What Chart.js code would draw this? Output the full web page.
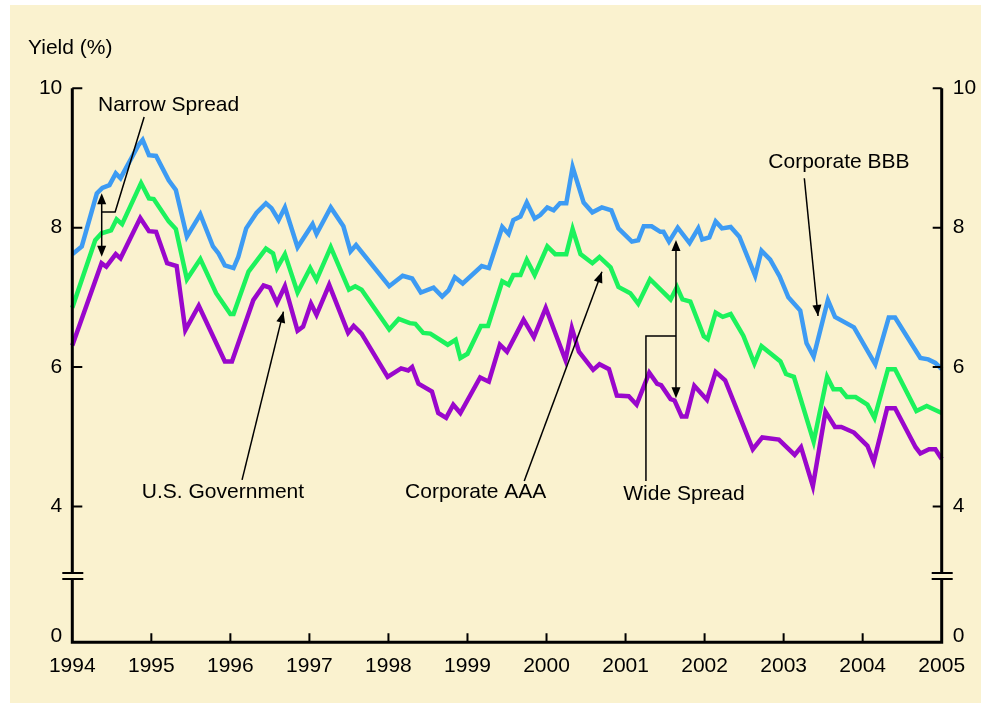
<!DOCTYPE html>
<html>
<head>
<meta charset="utf-8">
<script src="https://cdn.jsdelivr.net/npm/chart.js@4.4.1/dist/chart.umd.min.js"></script>
<style>
  html, body { margin: 0; padding: 0; background: #fff; }
  #chart { display: block; }
</style>
</head>
<body>
<canvas id="chart" width="981" height="703"></canvas>
<script>
// yields, [year, yield %] at each corner of the line
const bbbSeries = [
  [1994.00, 7.62], [1994.12, 7.73], [1994.31, 8.49], [1994.38, 8.57], [1994.47, 8.61], [1994.55, 8.78],
  [1994.61, 8.71], [1994.84, 9.19], [1994.89, 9.26], [1994.97, 9.04], [1995.06, 9.03], [1995.22, 8.68],
  [1995.31, 8.54], [1995.45, 7.87], [1995.62, 8.19], [1995.78, 7.73], [1995.85, 7.63], [1995.93, 7.46],
  [1996.04, 7.42], [1996.10, 7.58], [1996.20, 7.99], [1996.33, 8.21], [1996.45, 8.35], [1996.52, 8.28],
  [1996.61, 8.11], [1996.69, 8.29], [1996.85, 7.72], [1997.04, 8.05], [1997.09, 7.91], [1997.27, 8.29],
  [1997.43, 8.02], [1997.52, 7.66], [1997.59, 7.75], [1998.01, 7.16], [1998.18, 7.31], [1998.30, 7.27],
  [1998.41, 7.07], [1998.57, 7.14], [1998.68, 7.01], [1998.76, 7.10], [1998.84, 7.29], [1998.94, 7.20],
  [1999.18, 7.45], [1999.27, 7.42], [1999.44, 8.01], [1999.52, 7.91], [1999.58, 8.11], [1999.67, 8.16],
  [1999.75, 8.36], [1999.85, 8.13], [1999.92, 8.18], [2000.01, 8.29], [2000.09, 8.25], [2000.17, 8.35],
  [2000.25, 8.35], [2000.33, 8.87], [2000.47, 8.36], [2000.58, 8.22], [2000.70, 8.29], [2000.82, 8.25],
  [2000.91, 7.99], [2001.08, 7.80], [2001.16, 7.82], [2001.23, 8.02], [2001.33, 8.02], [2001.44, 7.94],
  [2001.48, 7.94], [2001.55, 7.80], [2001.66, 8.00], [2001.81, 7.78], [2001.92, 7.99], [2001.97, 7.83],
  [2002.06, 7.86], [2002.14, 8.09], [2002.22, 7.99], [2002.33, 8.01], [2002.44, 7.87], [2002.64, 7.31],
  [2002.72, 7.67], [2002.83, 7.54], [2002.95, 7.30], [2003.06, 7.00], [2003.21, 6.81], [2003.29, 6.34],
  [2003.38, 6.15], [2003.56, 6.96], [2003.65, 6.72], [2003.89, 6.57], [2004.16, 6.04], [2004.33, 6.71],
  [2004.41, 6.71], [2004.73, 6.13], [2004.83, 6.11], [2004.92, 6.06], [2005.00, 5.97]
];

const aaaSeries = [
  [1994.00, 6.85], [1994.29, 7.82], [1994.37, 7.92], [1994.49, 7.96], [1994.56, 8.12], [1994.63, 8.05],
  [1994.87, 8.64], [1994.97, 8.42], [1995.03, 8.41], [1995.22, 8.09], [1995.31, 7.98], [1995.45, 7.26],
  [1995.62, 7.55], [1995.82, 7.06], [1996.00, 6.76], [1996.04, 6.76], [1996.23, 7.37], [1996.45, 7.70],
  [1996.54, 7.63], [1996.59, 7.42], [1996.69, 7.62], [1996.85, 7.07], [1997.01, 7.42], [1997.09, 7.25],
  [1997.27, 7.72], [1997.50, 7.11], [1997.58, 7.16], [1997.66, 7.11], [1998.01, 6.54], [1998.13, 6.69],
  [1998.27, 6.63], [1998.34, 6.62], [1998.44, 6.49], [1998.53, 6.48], [1998.75, 6.32], [1998.85, 6.39],
  [1998.91, 6.13], [1999.00, 6.19], [1999.17, 6.59], [1999.26, 6.59], [1999.44, 7.23], [1999.52, 7.18],
  [1999.58, 7.32], [1999.67, 7.32], [1999.75, 7.54], [1999.85, 7.32], [2000.01, 7.73], [2000.11, 7.62],
  [2000.25, 7.62], [2000.33, 7.98], [2000.43, 7.62], [2000.58, 7.49], [2000.67, 7.58], [2000.81, 7.43],
  [2000.91, 7.15], [2001.06, 7.06], [2001.16, 6.91], [2001.31, 7.26], [2001.57, 6.97], [2001.65, 7.15],
  [2001.72, 6.97], [2001.82, 6.94], [2001.99, 6.44], [2002.04, 6.40], [2002.14, 6.78], [2002.23, 6.72],
  [2002.33, 6.76], [2002.49, 6.45], [2002.63, 6.05], [2002.72, 6.30], [2002.96, 6.08], [2003.03, 5.90],
  [2003.13, 5.86], [2003.38, 4.93], [2003.55, 5.86], [2003.63, 5.68], [2003.72, 5.68], [2003.80, 5.57],
  [2003.91, 5.57], [2004.06, 5.46], [2004.15, 5.27], [2004.32, 5.97], [2004.41, 5.97], [2004.68, 5.37],
  [2004.81, 5.44], [2005.00, 5.34]
];

const govSeries = [
  [1994.00, 6.31], [1994.37, 7.49], [1994.43, 7.44], [1994.55, 7.62], [1994.61, 7.56], [1994.86, 8.14],
  [1994.97, 7.95], [1995.06, 7.94], [1995.20, 7.49], [1995.32, 7.45], [1995.43, 6.53], [1995.60, 6.88],
  [1995.93, 6.08], [1996.02, 6.08], [1996.29, 6.96], [1996.42, 7.17], [1996.50, 7.14], [1996.59, 6.92],
  [1996.69, 7.16], [1996.85, 6.52], [1996.92, 6.58], [1997.02, 6.91], [1997.09, 6.75], [1997.25, 7.18],
  [1997.49, 6.49], [1997.56, 6.59], [1997.66, 6.48], [1997.99, 5.86], [1998.16, 5.98], [1998.25, 5.95],
  [1998.30, 6.00], [1998.38, 5.76], [1998.55, 5.65], [1998.63, 5.34], [1998.73, 5.27], [1998.82, 5.46],
  [1998.91, 5.34], [1999.16, 5.85], [1999.27, 5.79], [1999.41, 6.32], [1999.50, 6.22], [1999.62, 6.48],
  [1999.71, 6.68], [1999.84, 6.43], [1999.99, 6.85], [2000.24, 6.10], [2000.32, 6.56], [2000.41, 6.22],
  [2000.59, 5.96], [2000.67, 6.04], [2000.79, 5.97], [2000.89, 5.59], [2001.04, 5.58], [2001.14, 5.46],
  [2001.30, 5.92], [2001.40, 5.76], [2001.45, 5.74], [2001.57, 5.54], [2001.62, 5.52], [2001.71, 5.29],
  [2001.77, 5.29], [2001.87, 5.73], [2002.03, 5.53], [2002.14, 5.93], [2002.26, 5.81], [2002.61, 4.82],
  [2002.73, 4.99], [2002.94, 4.96], [2003.14, 4.74], [2003.22, 4.85], [2003.37, 4.29], [2003.53, 5.36],
  [2003.65, 5.14], [2003.73, 5.14], [2003.89, 5.06], [2004.06, 4.87], [2004.14, 4.64], [2004.31, 5.41],
  [2004.41, 5.41], [2004.67, 4.85], [2004.73, 4.76], [2004.84, 4.82], [2004.92, 4.82], [2005.00, 4.68]
];

const yearTicks = [1994, 1995, 1996, 1997, 1998, 1999, 2000, 2001, 2002, 2003, 2004, 2005];
const yieldTicks = [4, 6, 8, 10];
const zeroTick = 2.14;   // where the "0" label sits below the axis break
const axisBreak = 3;

// callouts in [year, yield] space
const callouts = [
  { text: 'Narrow Spread', at: [1994.325, 9.674], line: [[1994.909, 9.588], [1994.542, 8.225], [1994.376, 8.225]] },
  { text: 'U.S. Government', at: [1994.88, 4.122], arrow: [[1996.148, 4.380], [1996.671, 6.795]] },
  { text: 'Corporate AAA', at: [1998.211, 4.122], arrow: [[1999.718, 4.366], [2000.701, 7.369]] },
  { text: 'Wide Spread', at: [2000.971, 4.092], line: [[2001.258, 4.366], [2001.258, 6.446], [2001.638, 6.446]] },
  { text: 'Corporate BBB', at: [2002.806, 8.857], arrow: [[2003.262, 8.709], [2003.435, 6.733]] }
];
const spreadArrows = [
  { year: 1994.372, top: 8.493, bottom: 7.584 },
  { year: 2001.638, top: 7.824, bottom: 5.552 }
];

const FONT = '21px "Liberation Sans", Arial, Helvetica, sans-serif';
const toPoints = s => s.map(([x, y]) => ({ x, y }));

function arrowHead(ctx, x1, y1, x2, y2) {
  const a = Math.atan2(y2 - y1, x2 - x1);
  const len = 11, half = 4.5;
  ctx.beginPath();
  ctx.moveTo(x2, y2);
  ctx.lineTo(x2 - len * Math.cos(a) + half * Math.sin(a), y2 - len * Math.sin(a) - half * Math.cos(a));
  ctx.lineTo(x2 - len * Math.cos(a) - half * Math.sin(a), y2 - len * Math.sin(a) + half * Math.cos(a));
  ctx.closePath();
  ctx.fill();
}

const framePlugin = {
  id: 'frame',
  beforeDraw(chart) {
    const ctx = chart.ctx;
    ctx.save();
    ctx.fillStyle = '#FAF2CF';
    ctx.fillRect(10, 5, chart.width - 10, chart.height - 5);
    ctx.restore();
  },
  afterDatasetsDraw(chart) {
    const { ctx, chartArea: a, scales } = chart;
    const px = v => scales.x.getPixelForValue(v);
    const py = v => scales.y.getPixelForValue(v);
    const brk = py(axisBreak);
    ctx.save();
    ctx.strokeStyle = '#000';
    ctx.fillStyle = '#000';

    // axes, open at the top, with a gap at the break
    ctx.lineWidth = 3;
    ctx.lineJoin = 'miter';
    ctx.beginPath();
    ctx.moveTo(a.left, brk + 3);
    ctx.lineTo(a.left, a.bottom);
    ctx.lineTo(a.right, a.bottom);
    ctx.lineTo(a.right, brk + 3);
    ctx.moveTo(a.left, a.top);
    ctx.lineTo(a.left, brk - 3);
    ctx.moveTo(a.right, a.top);
    ctx.lineTo(a.right, brk - 3);
    ctx.stroke();

    // break marks and inward ticks
    ctx.lineWidth = 2;
    ctx.beginPath();
    [a.left, a.right].forEach(x => {
      ctx.moveTo(x - 10, brk - 3); ctx.lineTo(x + 11, brk - 3);
      ctx.moveTo(x - 10, brk + 3); ctx.lineTo(x + 11, brk + 3);
    });
    yieldTicks.forEach(v => {
      ctx.moveTo(a.left, py(v)); ctx.lineTo(a.left + 10, py(v));
      ctx.moveTo(a.right - 9, py(v)); ctx.lineTo(a.right, py(v));
    });
    yearTicks.slice(1, -1).forEach(t => {
      ctx.moveTo(px(t), a.bottom); ctx.lineTo(px(t), a.bottom - 9);
    });
    ctx.stroke();

    // callouts
    ctx.font = FONT;
    ctx.textBaseline = 'alphabetic';
    ctx.textAlign = 'left';
    ctx.fillText('Yield (%)', 28, 54);
    ctx.lineWidth = 1.5;
    callouts.forEach(c => {
      ctx.fillText(c.text, px(c.at[0]), py(c.at[1]));
      const pts = (c.line || c.arrow).map(([t, v]) => [px(t), py(v)]);
      ctx.beginPath();
      pts.forEach(([x, y], i) => i ? ctx.lineTo(x, y) : ctx.moveTo(x, y));
      ctx.stroke();
      if (c.arrow) arrowHead(ctx, pts[0][0], pts[0][1], pts[1][0], pts[1][1]);
    });
    spreadArrows.forEach(s => {
      const x = px(s.year), y1 = py(s.top), y2 = py(s.bottom);
      ctx.beginPath();
      ctx.moveTo(x, y1 + 6); ctx.lineTo(x, y2 - 6);
      ctx.stroke();
      arrowHead(ctx, x, y2, x, y1);
      arrowHead(ctx, x, y1, x, y2);
    });
    ctx.restore();
  }
};

const tickFont = { family: '"Liberation Sans", Arial, Helvetica, sans-serif', size: 21 };
const yTicks = () => [zeroTick, ...yieldTicks].map(value => ({ value }));
const yLabel = v => (v < axisBreak ? '0' : String(v));

new Chart(document.getElementById('chart'), {
  type: 'line',
  data: {
    datasets: [
      { label: 'Corporate BBB', data: toPoints(bbbSeries), borderColor: '#3D9BF3' },
      { label: 'Corporate AAA', data: toPoints(aaaSeries), borderColor: '#1CF25C' },
      { label: 'U.S. Government', data: toPoints(govSeries), borderColor: '#9A07CC' }
    ]
  },
  options: {
    responsive: false,
    animation: false,
    layout: { padding: { left: 10, top: 88.3, right: 0, bottom: 20.7 } },
    plugins: { legend: { display: false }, tooltip: { enabled: false } },
    elements: {
      point: { radius: 0 },
      line: { tension: 0, borderWidth: 4.5, borderJoinStyle: 'miter', borderCapStyle: 'butt', fill: false }
    },
    datasets: { line: { clip: 6 } },
    scales: {
      x: {
        type: 'linear', min: 1994, max: 2005,
        grid: { display: false, drawTicks: false }, border: { display: false },
        afterBuildTicks: s => { s.ticks = yearTicks.map(value => ({ value })); },
        afterFit: s => { s.height = 40; },
        ticks: { autoSkip: false, maxRotation: 0, padding: 11, color: '#000', font: tickFont, callback: v => String(v) }
      },
      y: {
        position: 'left', min: 2.05, max: 10,
        grid: { display: false, drawTicks: false }, border: { display: false },
        afterBuildTicks: s => { s.ticks = yTicks(); },
        afterFit: s => { s.width = 62.3; },
        ticks: { padding: 10, color: '#000', font: tickFont, callback: yLabel }
      },
      y2: {
        position: 'right', min: 2.05, max: 10,
        grid: { display: false, drawTicks: false }, border: { display: false },
        afterBuildTicks: s => { s.ticks = yTicks(); },
        afterFit: s => { s.width = 39.3; },
        ticks: { padding: 11, color: '#000', font: tickFont, callback: yLabel }
      }
    }
  },
  plugins: [framePlugin]
});
</script>
</body>
</html>
